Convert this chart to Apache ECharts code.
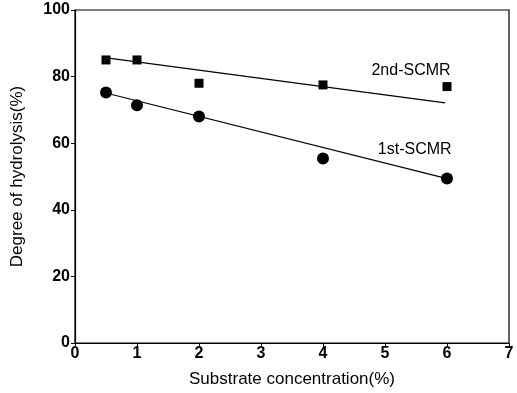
<!DOCTYPE html>
<html><head><meta charset="utf-8">
<script src="https://cdn.jsdelivr.net/npm/echarts@6/dist/echarts.min.js"></script>
<style>html,body{margin:0;padding:0;background:#fff}#c{width:517px;height:393px}</style>
</head><body><div id="c"></div>
<script>
var conc = [0.5, 1, 2, 4, 6];
var second = [85, 85, 78, 77.5, 77];
var first = [75.2, 71.4, 68, 55.4, 49.4];
var fit2X = [0.45, 5.97];
var fit2Y = [85.8, 72.1];
var fit1X = [0.45, 5.97];
var fit1Y = [75.3, 49.5];
var labelNames = ['2nd-SCMR', '1st-SCMR'];
var labelX = [5.42, 5.48];
var labelY = [81.8, 58.2];

function pairs(xs, ys){ return xs.map(function(x,i){ return [x, ys[i]]; }); }
var font = 'Liberation Sans, Arial, sans-serif';
var chart = echarts.init(document.getElementById('c'));
chart.setOption({
  animation: false,
  grid: {left: 75, right: 8, top: 10, bottom: 50, show: true, borderColor: '#000', borderWidth: 1.2},
  xAxis: {
    type: 'value', min: 0, max: 7, interval: 1,
    name: 'Substrate concentration(%)', nameLocation: 'middle', nameGap: 28,
    nameTextStyle: {fontFamily: font, fontSize: 17, color: '#000'},
    axisLine: {lineStyle: {color: '#000', width: 1.2}},
    axisTick: {length: 3, lineStyle: {color: '#000'}},
    axisLabel: {fontFamily: font, fontSize: 16, fontWeight: 'bold', color: '#000', margin: 3},
    splitLine: {show: false}
  },
  yAxis: {
    type: 'value', min: 0, max: 100, interval: 20,
    name: 'Degree of hydrolysis(%)', nameLocation: 'middle', nameGap: 49, nameRotate: 90,
    nameTextStyle: {fontFamily: font, fontSize: 17, color: '#000'},
    axisLine: {lineStyle: {color: '#000', width: 1.2}},
    axisTick: {length: 4, lineStyle: {color: '#000'}},
    axisLabel: {fontFamily: font, fontSize: 16, fontWeight: 'bold', color: '#000', margin: 5},
    splitLine: {show: false}
  },
  series: [
    {type: 'line', data: pairs(fit2X, fit2Y), symbol: 'none', lineStyle: {color: '#000', width: 1.2}},
    {type: 'line', data: pairs(fit1X, fit1Y), symbol: 'none', lineStyle: {color: '#000', width: 1.2}},
    {type: 'scatter', data: pairs(conc, second), symbol: 'rect', symbolSize: 9, itemStyle: {color: '#000', opacity: 1}},
    {type: 'scatter', data: pairs(conc, first), symbol: 'circle', symbolSize: 12, itemStyle: {color: '#000', opacity: 1}},
    {type: 'scatter', symbolSize: 1, itemStyle: {opacity: 0},
     data: labelNames.map(function(n,i){ return {name: n, value: [labelX[i], labelY[i]]}; }),
     label: {show: true, position: 'inside', formatter: '{b}', fontFamily: font, fontSize: 16, color: '#000', opacity: 1}}
  ]
});
</script></body></html>
